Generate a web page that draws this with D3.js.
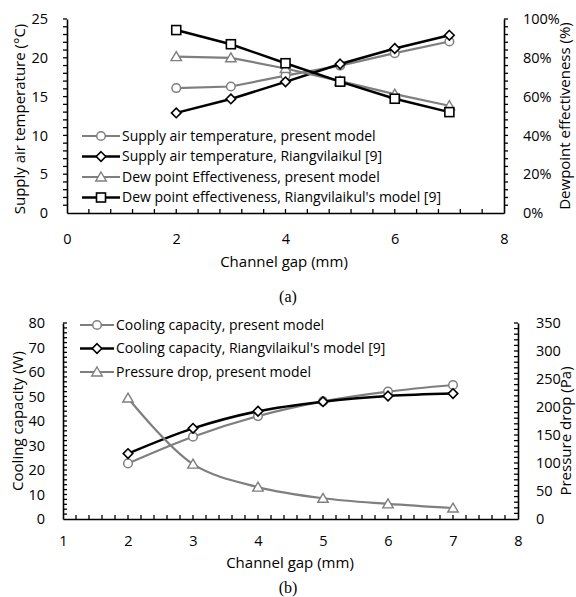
<!DOCTYPE html>
<html>
<head>
<meta charset="utf-8">
<script src="https://cdn.jsdelivr.net/npm/d3@7/dist/d3.min.js"></script>
<style>
  html, body { margin: 0; padding: 0; background: #fff; }
  svg { display: block; }
  text { font-family: "Open Sans", "Noto Sans", sans-serif; fill: #000; }
  .cap { font-family: "Liberation Serif", serif; }
</style>
</head>
<body>
<svg id="chart" width="576" height="597"></svg>
<script>
/* ── Data ──────────────────────────────────────────────────── */
const gapsA = [2, 3, 4, 5, 6, 7];
const supplyPresent = [16.1, 16.3, 17.7, 19.0, 20.6, 22.1];
const supplyRiang = [12.9, 14.7, 16.9, 19.2, 21.2, 22.9];
const effPresent = [0.806, 0.80, 0.745, 0.68, 0.613, 0.553];
const effRiang = [0.943, 0.87, 0.772, 0.677, 0.589, 0.52];

const gapsB = [2, 3, 4, 5, 6, 7];
const coolPresent = [22.7, 33.6, 42.0, 48.0, 52.0, 54.7];
const coolRiang = [26.7, 37.0, 44.0, 47.9, 50.2, 51.2];
const pressurePresent = [216, 98, 57, 37, 27, 19.6];

const legendA = [
  'Supply air temperature, present model',
  'Supply air temperature, Riangvilaikul [9]',
  'Dew point Effectiveness, present model',
  "Dew point effectiveness, Riangvilaikul's model [9]",
];
const legendB = [
  'Cooling capacity, present model',
  "Cooling capacity, Riangvilaikul's model [9]",
  'Pressure drop, present model',
];

const GRAY = '#7f7f7f';
const BLACK = '#000';
const TICK_FS = 14.5;
const TITLE_FS = 15;
const LEGEND_FS = 14;

const svg = d3.select('#chart');

/* ── Helpers ───────────────────────────────────────────────── */
function marker(g, type, x, y, color) {
  if (type === 'circle') {
    g.append('circle').attr('cx', x).attr('cy', y).attr('r', 4.3)
      .attr('fill', '#fff').attr('stroke', color).attr('stroke-width', 1.5);
  } else if (type === 'diamond') {
    const s = 4.8;
    g.append('path').attr('d', `M${x},${y - s}L${x + s},${y}L${x},${y + s}L${x - s},${y}Z`)
      .attr('fill', '#fff').attr('stroke', color).attr('stroke-width', 1.6);
  } else if (type === 'square') {
    g.append('rect').attr('x', x - 4.5).attr('y', y - 4.5).attr('width', 9).attr('height', 9)
      .attr('fill', '#fff').attr('stroke', color).attr('stroke-width', 1.6);
  } else if (type === 'triangle') {
    const s = 5;
    g.append('path').attr('d', `M${x},${y - s}L${x + s * 1.05},${y + s * 0.8}L${x - s * 1.05},${y + s * 0.8}Z`)
      .attr('fill', '#fff').attr('stroke', color).attr('stroke-width', 1.4);
  }
}

function series(g, xs, ys, x, y, s, curve) {
  const line = d3.line().x((d, i) => x(xs[i])).y(d => y(d)).curve(curve);
  g.append('path').datum(ys).attr('d', line)
    .attr('fill', 'none').attr('stroke', s.color).attr('stroke-width', s.width);
  ys.forEach((v, i) => marker(g, s.marker, x(xs[i]), y(v), s.color));
}

function minorTicks(g, values, pos, orient, len) {
  values.forEach(v => {
    const p = pos(v);
    if (orient === 'x') g.append('line').attr('x1', p).attr('x2', p).attr('y1', 0).attr('y2', -len);
    else if (orient === 'left') g.append('line').attr('y1', p).attr('y2', p).attr('x1', 0).attr('x2', -len);
    else g.append('line').attr('y1', p).attr('y2', p).attr('x1', 0).attr('x2', len);
  });
  g.selectAll('line').attr('stroke', '#000').attr('stroke-width', 1.3);
}

function styleAxis(g) {
  g.select('.domain').attr('stroke', '#000').attr('stroke-width', 1.6);
  g.selectAll('.tick line').remove();
  g.selectAll('.tick text').attr('font-size', TICK_FS).attr('font-family', '"Open Sans", sans-serif');
}

/* ── Chart (a) ─────────────────────────────────────────────── */
{
  const L = 67, R = 504, T = 19, B = 213;
  const x = d3.scaleLinear().domain([0, 8]).range([L, R]);
  const y = d3.scaleLinear().domain([0, 25]).range([B, T]);
  const y2 = d3.scaleLinear().domain([0, 1]).range([B, T]);
  const g = svg.append('g');

  const ax = g.append('g').attr('transform', `translate(0,${B})`)
    .call(d3.axisBottom(x).tickValues([0, 2, 4, 6, 8]).tickSizeOuter(0).tickPadding(15));
  styleAxis(ax);
  minorTicks(ax.append('g'), d3.range(0.4, 8, 0.4), x, 'x', 4);

  const ay = g.append('g').attr('transform', `translate(${L},0)`)
    .call(d3.axisLeft(y).tickValues(d3.range(0, 26, 5)).tickSizeOuter(0).tickPadding(13));
  styleAxis(ay);
  minorTicks(ay.append('g'), d3.range(1, 26, 1), y, 'left', 4);

  const ay2 = g.append('g').attr('transform', `translate(${R},0)`)
    .call(d3.axisRight(y2).tickValues(d3.range(0, 1.01, 0.2)).tickFormat(d3.format('.0%')).tickSizeOuter(0).tickPadding(13));
  styleAxis(ay2);
  minorTicks(ay2.append('g'), d3.range(0.04, 1.01, 0.04), y2, 'right', 4);

  const data = [
    { ys: supplyPresent, sc: y, color: GRAY, width: 2.2, marker: 'circle' },
    { ys: supplyRiang, sc: y, color: BLACK, width: 2.5, marker: 'diamond' },
    { ys: effPresent, sc: y2, color: GRAY, width: 2.2, marker: 'triangle' },
    { ys: effRiang, sc: y2, color: BLACK, width: 2.5, marker: 'square' },
  ];
  data.forEach(s => series(g, gapsA, s.ys, x, s.sc, s, d3.curveLinear));

  const lg = g.append('g');
  data.forEach((s, i) => {
    const yy = 136 + i * 20.5;
    lg.append('line').attr('x1', 82).attr('x2', 120).attr('y1', yy).attr('y2', yy)
      .attr('stroke', s.color).attr('stroke-width', s.width);
    marker(lg, s.marker, 101, yy, s.color);
    lg.append('text').attr('x', 122).attr('y', yy).attr('dy', '0.35em')
      .attr('font-size', LEGEND_FS).text(legendA[i]);
  });

  g.append('text').attr('transform', `translate(20,${(T + B) / 2 + 3}) rotate(-90)`)
    .attr('text-anchor', 'middle').attr('dy', '0.35em').attr('font-size', TITLE_FS).text('Supply air temperature (°C)');
  g.append('text').attr('transform', `translate(565,${(T + B) / 2}) rotate(-90)`)
    .attr('text-anchor', 'middle').attr('dy', '0.35em').attr('font-size', TITLE_FS).text('Dewpoint effectiveness (%)');
  g.append('text').attr('x', 284).attr('y', 267).attr('text-anchor', 'middle')
    .attr('font-size', TITLE_FS).text('Channel gap (mm)');
  g.append('text').attr('class', 'cap').attr('x', 288).attr('y', 302).attr('text-anchor', 'middle')
    .attr('font-size', 16).text('(a)');
}

/* ── Chart (b) ─────────────────────────────────────────────── */
{
  const L = 63, R = 518, T = 323, B = 519;
  const x = d3.scaleLinear().domain([1, 8]).range([L, R]);
  const y = d3.scaleLinear().domain([0, 80]).range([B, T]);
  const y2 = d3.scaleLinear().domain([0, 350]).range([B, T]);
  const g = svg.append('g');

  const ax = g.append('g').attr('transform', `translate(0,${B})`)
    .call(d3.axisBottom(x).tickValues(d3.range(1, 9)).tickFormat(d3.format('d')).tickSizeOuter(0).tickPadding(11));
  styleAxis(ax);
  minorTicks(ax.append('g'), d3.range(1.2, 8, 0.2), x, 'x', 4);

  const ay = g.append('g').attr('transform', `translate(${L},0)`)
    .call(d3.axisLeft(y).tickValues(d3.range(0, 81, 10)).tickSizeOuter(0).tickPadding(12));
  styleAxis(ay);
  minorTicks(ay.append('g'), d3.range(2, 81, 2), y, 'right', 4);

  const ay2 = g.append('g').attr('transform', `translate(${R},0)`)
    .call(d3.axisRight(y2).tickValues(d3.range(0, 351, 50)).tickSizeOuter(0).tickPadding(12));
  styleAxis(ay2);
  minorTicks(ay2.append('g'), d3.range(10, 351, 10), y2, 'left', 4);

  const data = [
    { ys: coolPresent, sc: y, color: GRAY, width: 2.2, marker: 'circle' },
    { ys: coolRiang, sc: y, color: BLACK, width: 2.5, marker: 'diamond' },
    { ys: pressurePresent, sc: y2, color: GRAY, width: 2.2, marker: 'triangle' },
  ];
  data.forEach(s => series(g, gapsB, s.ys, x, s.sc, s, d3.curveCatmullRom));

  const lg = g.append('g');
  data.forEach((s, i) => {
    const yy = 325 + i * 23.5;
    lg.append('line').attr('x1', 80).attr('x2', 114).attr('y1', yy).attr('y2', yy)
      .attr('stroke', s.color).attr('stroke-width', s.width);
    marker(lg, s.marker, 97, yy, s.color);
    lg.append('text').attr('x', 116).attr('y', yy).attr('dy', '0.35em')
      .attr('font-size', LEGEND_FS).text(legendB[i]);
  });

  g.append('text').attr('transform', `translate(18,${(T + B) / 2}) rotate(-90)`)
    .attr('text-anchor', 'middle').attr('dy', '0.35em').attr('font-size', TITLE_FS).text('Cooling capacity (W)');
  g.append('text').attr('transform', `translate(566,${(T + B) / 2 + 10}) rotate(-90)`)
    .attr('text-anchor', 'middle').attr('dy', '0.35em').attr('font-size', TITLE_FS).text('Pressure drop (Pa)');
  g.append('text').attr('x', 290).attr('y', 568).attr('text-anchor', 'middle')
    .attr('font-size', TITLE_FS).text('Channel gap (mm)');
  g.append('text').attr('class', 'cap').attr('x', 288).attr('y', 593).attr('text-anchor', 'middle')
    .attr('font-size', 16).text('(b)');
}
</script>
</body>
</html>
